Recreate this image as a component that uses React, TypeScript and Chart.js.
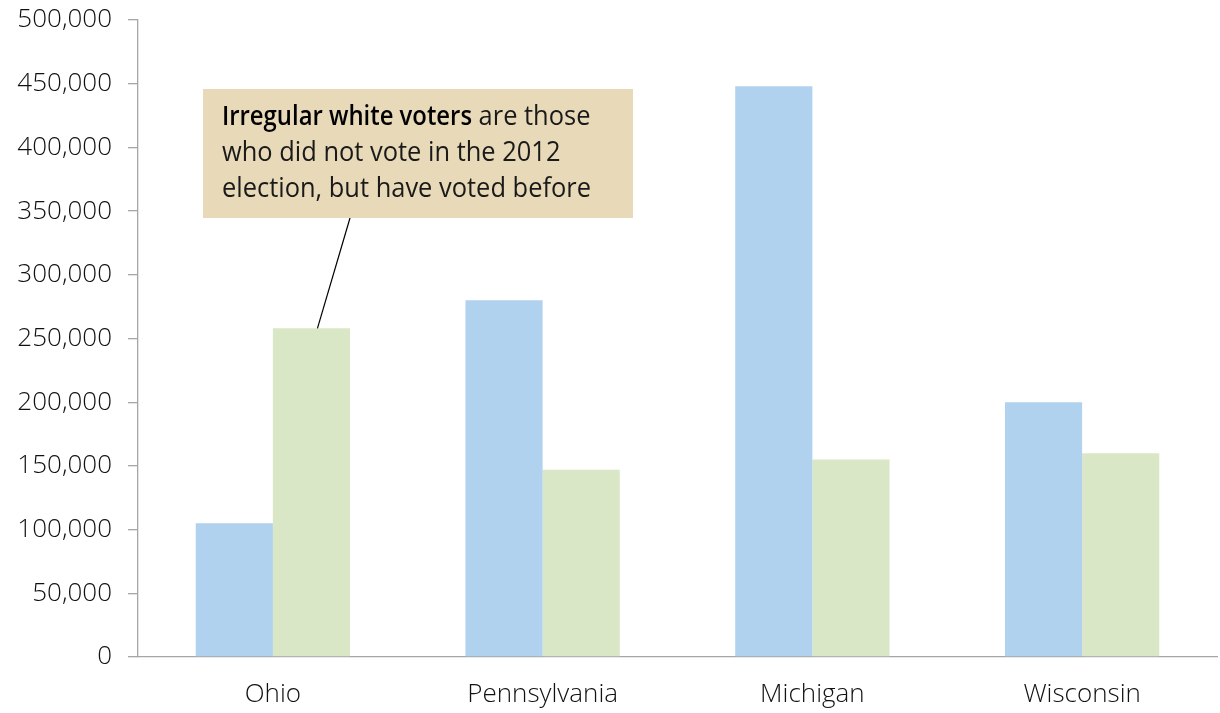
import React, { useEffect, useRef } from "react";
import { Chart, registerables } from "chart.js";

Chart.register(...registerables);

const categories = ["Ohio", "Pennsylvania", "Michigan", "Wisconsin"];
const seriesA = [105000, 280000, 448000, 200000];
const seriesB = [258000, 147000, 155000, 160000];
const yTicksMax = 500000;
const yStep = 50000;
const noteBold = "Irregular white voters";
const noteLines = [" are those", "who did not vote in the 2012", "election, but have voted before"];

const FONT = "'Open Sans', 'Noto Sans', sans-serif";

const annotationPlugin = {
  id: "note",
  afterDatasetsDraw(chart: any) {
    const { ctx, chartArea } = chart;
    const bx = chartArea.left + 65;
    const by = chartArea.top + 69;
    const bw = 430;
    const bh = 129;
    ctx.save();
    const bar = chart.getDatasetMeta(1).data[0];
    ctx.beginPath();
    ctx.moveTo(bx + 147, by + bh);
    ctx.lineTo(bar.x + 6, bar.y);
    ctx.strokeStyle = "#000";
    ctx.lineWidth = 1.2;
    ctx.stroke();
    ctx.fillStyle = "#E8DAB8";
    ctx.fillRect(bx, by, bw, bh);
    const size = 27;
    const tx = bx + 19;
    ctx.textBaseline = "alphabetic";
    ctx.textAlign = "left";
    const baselines = [by + 36, by + 72, by + 108];
    ctx.font = `400 ${size}px ${FONT}`;
    const sx = 369 / ctx.measureText(noteLines[2]).width;
    ctx.font = `600 ${size}px ${FONT}`;
    const bwRaw = ctx.measureText(noteBold).width;
    const sb = 250 / bwRaw;
    ctx.save();
    ctx.translate(tx, 0);
    ctx.scale(sb, 1);
    ctx.fillStyle = "#000";
    ctx.fillText(noteBold, 0, baselines[0]);
    ctx.restore();
    ctx.save();
    ctx.translate(tx, 0);
    ctx.scale(sx, 1);
    ctx.font = `400 ${size}px ${FONT}`;
    ctx.fillStyle = "#1a1a1a";
    ctx.fillText(noteLines[0], 250 / sx, baselines[0]);
    ctx.fillText(noteLines[1], 0, baselines[1]);
    ctx.fillText(noteLines[2], 0, baselines[2]);
    ctx.restore();
    ctx.restore();
  },
};

export default function App() {
  const ref = useRef<HTMLCanvasElement>(null);
  useEffect(() => {
    document.body.style.margin = "0";
    const chart = new Chart(ref.current!, {
      type: "bar",
      data: {
        labels: categories,
        datasets: [
          {
            label: "A",
            data: seriesA,
            backgroundColor: "#B0D2EF",
            categoryPercentage: 0.572,
            barPercentage: 1,
          },
          {
            label: "B",
            data: seriesB,
            backgroundColor: "#DAE7C6",
            categoryPercentage: 0.572,
            barPercentage: 1,
          },
        ],
      },
      options: {
        responsive: false,
        animation: false,
        layout: { padding: { top: 20, right: 3, left: 0, bottom: 0 } },
        plugins: { legend: { display: false }, tooltip: { enabled: false } },
        scales: {
          x: {
            grid: { drawOnChartArea: false, drawTicks: false, color: "#A6A6A6" },
            border: { color: "#A6A6A6", width: 1.3 },
            ticks: {
              padding: 22,
              color: "#111",
              font: { family: FONT, size: 26, weight: "300" as any },
            },
            afterFit: (s: any) => {
              s.height = 56;
              s.paddingLeft = 0;
              s.paddingRight = 0;
            },
          },
          y: {
            min: 0,
            max: yTicksMax,
            grid: { drawOnChartArea: false, drawTicks: true, tickLength: 10, color: "#A6A6A6", lineWidth: 1.3 },
            border: { color: "#A6A6A6", width: 1.3 },
            ticks: {
              stepSize: yStep,
              padding: 16,
              color: "#111",
              font: { family: FONT, size: 26, weight: "300" as any },
              callback: (v: any) => Number(v).toLocaleString("en-US"),
            },
            afterFit: (s: any) => {
              s.width = 138;
              s.paddingTop = 0;
              s.paddingBottom = 0;
            },
          },
        },
      },
      plugins: [annotationPlugin],
    });
    return () => chart.destroy();
  }, []);
  return (
    <div style={{ width: 1220, height: 713 }}>
      <canvas ref={ref} width={1220} height={713} style={{ display: "block" }} />
    </div>
  );
}
